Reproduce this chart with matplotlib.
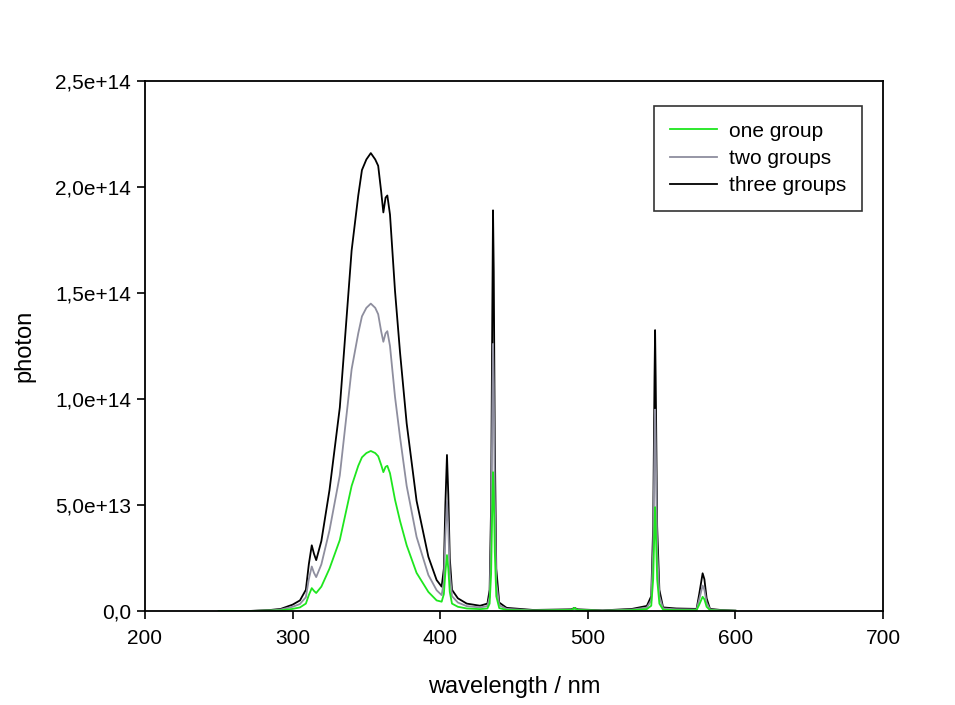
import matplotlib
matplotlib.use("Agg")
import matplotlib.pyplot as plt
from matplotlib.ticker import FuncFormatter, MultipleLocator

plt.rcParams['font.family'] = ['Liberation Sans', 'DejaVu Sans']

# wavelength grid (nm) shared by all three spectra
wavelength = [250, 270, 285, 292, 300, 305, 309, 311, 313, 314.5, 316, 319.5, 325, 332, 340,
              344.5, 347, 350, 353, 356, 358, 360, 361.5, 363, 364.2, 366, 369.4, 372.8,
              377.3, 384, 392, 397.6, 401, 402.5, 403.5, 404.6, 405.5, 406.5, 408, 412, 418,
              427, 432, 433.5, 434.5, 435.3, 435.8, 436.3, 437, 438, 440, 445, 463, 489, 491,
              493, 510, 530, 540, 543, 544.3, 545.2, 545.6, 546, 547, 548.5, 551, 560, 573.7,
              575.5, 577.8, 579, 580.5, 582.8, 590, 600]

# photon counts in units of 1e13
three_groups = [0.0, 0.0, 0.05, 0.1, 0.3, 0.5, 1.0, 2.2, 3.1, 2.7, 2.4, 3.3, 5.7, 9.6, 17.0,
                19.6, 20.8, 21.3, 21.6, 21.3, 21.0, 19.8, 18.8, 19.5, 19.6, 18.7, 15.1, 12.2,
                8.85, 5.2, 2.56, 1.46, 1.15, 2.0, 5.0, 7.36, 5.5, 2.5, 1.0, 0.6, 0.35,
                0.25, 0.35, 1.0, 5.0, 14.0, 18.9, 16.0, 8.0, 2.0, 0.4, 0.15, 0.05, 0.08, 0.15,
                0.08, 0.03, 0.1, 0.24, 0.7, 4.0, 11.0, 13.25, 11.0, 4.0, 1.0, 0.17, 0.12, 0.1,
                0.8, 1.78, 1.5, 0.6, 0.1, 0.05, 0.02]

two_groups = [0.0, 0.0, 0.03, 0.07, 0.2, 0.33, 0.65, 1.5, 2.1, 1.8, 1.6, 2.2, 3.8, 6.4, 11.4,
              13.1, 13.9, 14.3, 14.5, 14.3, 14.0, 13.2, 12.7, 13.1, 13.2, 12.5, 10.1, 8.2,
              5.9, 3.5, 1.7, 0.98, 0.75, 1.4, 3.5, 5.2, 3.9, 1.8, 0.7, 0.4, 0.23,
              0.17, 0.23, 0.67, 3.4, 9.4, 12.6, 10.7, 5.4, 1.35, 0.27, 0.1, 0.03, 0.05, 0.1,
              0.05, 0.02, 0.07, 0.16, 0.5, 2.9, 7.9, 9.5, 7.9, 2.9, 0.7, 0.12, 0.08, 0.07,
              0.55, 1.2, 1.0, 0.4, 0.07, 0.03, 0.01]

one_group = [0.0, 0.0, 0.02, 0.03, 0.1, 0.17, 0.35, 0.75, 1.08, 0.95, 0.85, 1.15, 2.0, 3.35, 5.9,
             6.85, 7.25, 7.45, 7.55, 7.45, 7.3, 6.9, 6.55, 6.8, 6.85, 6.5, 5.25, 4.25,
             3.1, 1.8, 0.9, 0.5, 0.44, 0.8, 1.8, 2.64, 2.0, 0.9, 0.35, 0.2, 0.12,
             0.09, 0.12, 0.35, 1.75, 4.9, 6.55, 5.6, 2.8, 0.7, 0.14, 0.05, 0.02, 0.05, 0.15,
             0.05, 0.01, 0.04, 0.09, 0.25, 1.5, 4.0, 4.9, 4.0, 1.5, 0.35, 0.06, 0.04, 0.04,
             0.3, 0.67, 0.55, 0.2, 0.04, 0.02, 0.01]

scale = 1e13

fig = plt.figure(figsize=(9.55, 7.05), dpi=100)
ax = fig.add_axes([0.1518, 0.1333, 0.7728, 0.7518])

l3, = ax.plot(wavelength, [v * scale for v in three_groups], color='black', linewidth=1.3, label='three groups')
l2, = ax.plot(wavelength, [v * scale for v in two_groups], color='#8e8e9e', linewidth=1.3, label='two groups')
l1, = ax.plot(wavelength, [v * scale for v in one_group], color='#1ee61e', linewidth=1.3, label='one group')

ax.set_xlim(200, 700)
ax.set_ylim(0, 2.5e14)
ax.xaxis.set_major_locator(MultipleLocator(100))
ax.yaxis.set_major_locator(MultipleLocator(5e13))

def yfmt(v, pos):
    if v == 0:
        return "0,0"
    return f"{v:.1e}".replace('.', ',')

ax.yaxis.set_major_formatter(FuncFormatter(yfmt))
ax.tick_params(direction='out', length=6, width=1.2, labelsize=15, top=False, right=False)
ax.tick_params(axis='x', pad=7)
ax.tick_params(axis='y', pad=4)
for s in ax.spines.values():
    s.set_linewidth(1.3)

ax.set_xlabel("wavelength / nm", fontsize=17, labelpad=20)
ax.set_ylabel("photon", fontsize=17, labelpad=14)

leg = ax.legend(handles=[l1, l2, l3], loc='upper right', bbox_to_anchor=(0.9715, 0.953),
                fontsize=15, frameon=True, fancybox=False, edgecolor='black',
                handlelength=2.25, labelspacing=0.4, borderpad=0.75, handletextpad=0.6,
                borderaxespad=0)
leg.get_frame().set_linewidth(1.2)

fig.savefig("out.png", dpi=100)
